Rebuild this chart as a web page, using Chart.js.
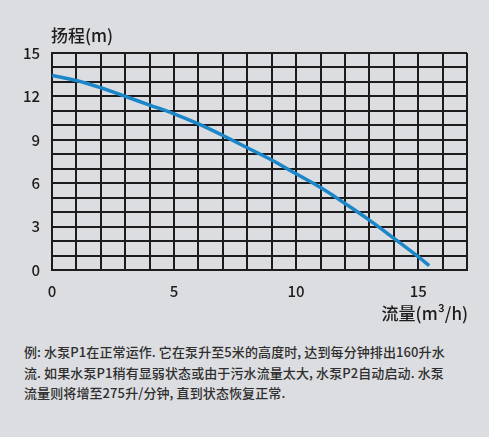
<!DOCTYPE html>
<html>
<head>
<meta charset="utf-8">
<script src="https://cdn.jsdelivr.net/npm/chart.js@4"></script>
<style>
  html, body { margin:0; padding:0; background:#dcdde0; }
  body { width:489px; height:437px; position:relative; overflow:hidden; }
  #wrap { position:absolute; left:0; top:0; width:489px; height:330px; }
  #note { position:absolute; left:24px; top:342px; width:465px;
          font-family:"Noto Sans CJK SC","Noto Sans",sans-serif; font-size:13px;
          line-height:20.5px; color:#2e2e2e; font-weight:500; white-space:nowrap;
          letter-spacing:0.1px; }
</style>
</head>
<body>
<div id="wrap"><canvas id="c"></canvas></div>
<div id="note">例: 水泵P1在正常运作. 它在泵升至5米的高度时, 达到每分钟排出160升水<br>流. 如果水泵P1稍有显弱状态或由于污水流量太大, 水泵P2自动启动. 水泵<br>流量则将增至275升/分钟, 直到状态恢复正常.</div>
<script>
const flowValues = [0, 1, 2, 3, 4, 5, 6, 7, 8, 9, 10, 11, 12, 13, 14, 15, 15.45];
const headValues = [13.45, 13.1, 12.6, 12.0, 11.4, 10.8, 10.1, 9.3, 8.45, 7.6, 6.65, 5.7, 4.6, 3.45, 2.2, 0.92, 0.3];
const xTickLabels = [0, 5, 10, 15];
const yTickLabels = [0, 3, 6, 9, 12, 15];
const yTitle = '扬程(m)';
const xTitle = '流量(m³/h)';

const points = flowValues.map((x, i) => ({ x: x, y: headValues[i] }));
const font = '"Noto Sans CJK SC","Noto Sans",sans-serif';
const ink = '#1e1b1c';

const titlesPlugin = {
  id: 'titles',
  afterDraw(chart) {
    const ctx = chart.ctx, a = chart.chartArea;
    ctx.save();
    ctx.fillStyle = ink;
    ctx.font = '500 17px ' + font;
    ctx.textBaseline = 'middle';
    ctx.textAlign = 'left';
    ctx.fillText(yTitle, a.left - 1, 36);
    ctx.textAlign = 'right';
    ctx.fillText(xTitle, a.right + 1, 314);
    ctx.restore();
  }
};

new Chart(document.getElementById('c'), {
  type: 'line',
  data: {
    datasets: [{
      data: points,
      borderColor: '#1b86c8',
      borderWidth: 3.5,
      pointRadius: 0,
      tension: 0.4,
      fill: false
    }]
  },
  options: {
    responsive: true,
    maintainAspectRatio: false,
    animation: false,
    layout: { padding: { left: 0, top: 53, right: 22, bottom: 0 } },
    plugins: { legend: { display: false }, tooltip: { enabled: false } },
    scales: {
      x: {
        type: 'linear', min: 0, max: 17,
        afterFit(s) { s.height = 60; },
        border: { color: ink, width: 2 },
        grid: { color: ink, lineWidth: 2, drawTicks: false },
        ticks: {
          stepSize: 1, padding: 12, color: ink, autoSkip: false, maxRotation: 0,
          font: { family: font, size: 15, weight: '500' },
          callback: v => xTickLabels.includes(v) ? String(v) : ''
        }
      },
      y: {
        type: 'linear', min: 0, max: 15,
        afterFit(s) { s.width = 52; },
        border: { color: ink, width: 2 },
        grid: { color: ink, lineWidth: 2, drawTicks: false },
        ticks: {
          stepSize: 1, padding: 12, color: ink, autoSkip: false,
          font: { family: font, size: 15, weight: '500' },
          callback: v => yTickLabels.includes(v) ? String(v) : ''
        }
      }
    }
  },
  plugins: [titlesPlugin]
});
</script>
</body>
</html>
